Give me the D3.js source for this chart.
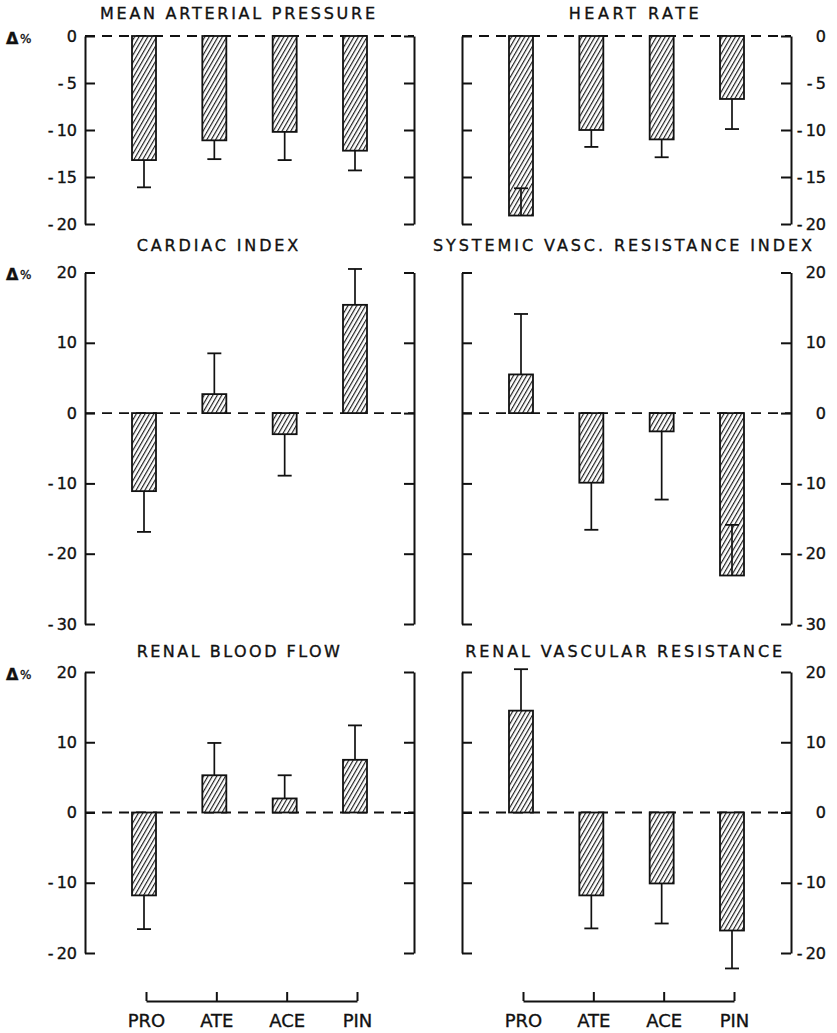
<!DOCTYPE html>
<html>
<head>
<meta charset="utf-8">
<script src="https://cdn.jsdelivr.net/npm/d3@7"></script>
<style>
  html, body { margin: 0; padding: 0; background: #fff; }
  svg text { font-family: "DejaVu Sans", sans-serif; fill: #111; stroke: #111; stroke-width: 0.35px; }
</style>
</head>
<body>
<svg id="chart" width="837" height="1033"></svg>
<script>
// Percent change from baseline (mean and SD) for each drug
const categories = ["PRO", "ATE", "ACE", "PIN"];

const mapMean  = [-13.2, -11.1, -10.2, -12.2];
const mapSD    = [2.9, 2.0, 3.0, 2.1];
const hrMean   = [-19.1, -10.0, -11.0, -6.7];
const hrSD     = [2.9, 1.8, 1.9, 3.2];
const ciMean   = [-11.1, 2.7, -3.0, 15.4];
const ciSD     = [5.8, 5.8, 5.9, 5.1];
const svriMean = [5.5, -9.9, -2.6, -23.1];
const svriSD   = [8.6, 6.7, 9.7, 7.2];
const rbfMean  = [-11.8, 5.3, 2.0, 7.5];
const rbfSD    = [4.8, 4.6, 3.3, 4.9];
const rvrMean  = [14.5, -11.8, -10.1, -16.8];
const rvrSD    = [5.9, 4.7, 5.7, 5.4];

// SD whiskers that are drawn back into the bar instead of away from zero
const hrInward   = ["PRO"];
const svriInward = ["PIN"];

const topTicks = [0, -5, -10, -15, -20];
const midTicks = [20, 10, 0, -10, -20, -30];
const lowTicks = [20, 10, 0, -10, -20];

const svg = d3.select("#chart");
const INK = "#111";
const W = 329;          // distance between the two vertical axes of a panel
const BAR_W = 24;
const CAP_W = 14;

// diagonal hatching for the bars
const defs = svg.append("defs");
const pat = defs.append("pattern")
  .attr("id", "hatch")
  .attr("patternUnits", "userSpaceOnUse")
  .attr("width", 3.8).attr("height", 4)
  .attr("patternTransform", "rotate(30)");
pat.append("rect").attr("width", 3.8).attr("height", 4).attr("fill", "#fff");
pat.append("line").attr("x1", 0.6).attr("y1", 0).attr("x2", 0.6).attr("y2", 4)
  .attr("stroke", INK).attr("stroke-width", 1.1);

const fmt = d => d < 0 ? "-\u2009" + Math.abs(d) : String(d);

const panels = [
  { title: "MEAN ARTERIAL PRESSURE", tx: 237.5, ty: 19, tw: 275,
    mean: mapMean, sd: mapSD, inward: [], ticks: topTicks,
    domain: [-20, 0], range: [224, 36], x0: 85, side: "left", delta: true },
  { title: "HEART RATE", tx: 633.7, ty: 19, tw: 130,
    mean: hrMean, sd: hrSD, inward: hrInward, ticks: topTicks,
    domain: [-20, 0], range: [224, 36], x0: 462, side: "right" },
  { title: "CARDIAC INDEX", tx: 217.5, ty: 250.7, tw: 161.6,
    mean: ciMean, sd: ciSD, inward: [], ticks: midTicks,
    domain: [-30, 20], range: [624, 272.5], x0: 85, side: "left", delta: true },
  { title: "SYSTEMIC VASC. RESISTANCE INDEX", tx: 622.5, ty: 250.7, tw: 379,
    mean: svriMean, sd: svriSD, inward: svriInward, ticks: midTicks,
    domain: [-30, 20], range: [624, 272.5], x0: 462, side: "right" },
  { title: "RENAL BLOOD FLOW", tx: 238.3, ty: 657.3, tw: 203.3,
    mean: rbfMean, sd: rbfSD, inward: [], ticks: lowTicks,
    domain: [-20, 20], range: [953, 672], x0: 85, side: "left", delta: true, bracket: true },
  { title: "RENAL VASCULAR RESISTANCE", tx: 623.7, ty: 657.3, tw: 316.7,
    mean: rvrMean, sd: rvrSD, inward: [], ticks: lowTicks,
    domain: [-20, 20], range: [953, 672], x0: 462, side: "right", bracket: true }
];

function styleAxis(sel) {
  sel.selectAll("path, line").attr("stroke", INK).attr("stroke-width", 2);
  sel.selectAll("text").attr("font-size", 16).style("font-family", "'DejaVu Sans', sans-serif");
}

panels.forEach(p => {
  const x = d3.scalePoint().domain(categories).range([59, 270]);
  const y = d3.scaleLinear().domain(p.domain).range(p.range);
  const g = svg.append("g").attr("transform", `translate(${p.x0},0)`);

  // title
  svg.append("text")
    .attr("x", p.tx).attr("y", p.ty)
    .attr("text-anchor", "middle")
    .attr("font-size", 16)
    .attr("textLength", p.tw).attr("lengthAdjust", "spacing")
    .text(p.title);

  // zero reference line
  g.append("line")
    .attr("x1", 0).attr("x2", W)
    .attr("y1", y(0)).attr("y2", y(0))
    .attr("stroke", INK).attr("stroke-width", 1.9)
    .attr("stroke-dasharray", "10,7");

  // left axis (ticks point inward)
  const la = g.append("g").call(
    d3.axisLeft(y).tickValues(p.ticks).tickSizeInner(-10).tickSizeOuter(0)
      .tickPadding(8).tickFormat(p.side === "left" ? fmt : () => ""));
  styleAxis(la);

  // right axis
  const ra = g.append("g").attr("transform", `translate(${W},0)`).call(
    d3.axisRight(y).tickValues(p.ticks).tickSizeInner(-10).tickSizeOuter(0)
      .tickPadding(8).tickFormat(p.side === "right" ? fmt : () => ""));
  styleAxis(ra);
  ra.selectAll("text").attr("text-anchor", "end").attr("x", 35);

  // "Δ%" unit marker next to the left scale
  if (p.delta) {
    const yt = y(p.domain[1]) + 7.5;
    svg.append("text").attr("x", 6).attr("y", yt)
      .attr("font-size", 16).attr("font-weight", "bold").text("Δ");
    svg.append("text").attr("x", 20).attr("y", yt - 1)
      .attr("font-size", 12).text("%");
  }

  const rows = categories.map((c, i) => ({ c, m: p.mean[i], s: p.sd[i], inward: p.inward.includes(c) }));

  // bars
  g.selectAll("rect.bar").data(rows).join("rect")
    .attr("class", "bar")
    .attr("x", d => x(d.c) - BAR_W / 2)
    .attr("width", BAR_W)
    .attr("y", d => Math.min(y(d.m), y(0)))
    .attr("height", d => Math.abs(y(d.m) - y(0)))
    .attr("fill", "url(#hatch)")
    .attr("stroke", INK).attr("stroke-width", 1.8);

  // SD whiskers
  const end = d => d.m + (d.inward ? -1 : 1) * Math.sign(d.m) * d.s;
  g.selectAll("line.whisker").data(rows).join("line")
    .attr("class", "whisker")
    .attr("x1", d => x(d.c)).attr("x2", d => x(d.c))
    .attr("y1", d => y(d.m)).attr("y2", d => y(end(d)))
    .attr("stroke", INK).attr("stroke-width", 1.7);
  g.selectAll("line.cap").data(rows).join("line")
    .attr("class", "cap")
    .attr("x1", d => x(d.c) - CAP_W / 2).attr("x2", d => x(d.c) + CAP_W / 2)
    .attr("y1", d => y(end(d))).attr("y2", d => y(end(d)))
    .attr("stroke", INK).attr("stroke-width", 1.8);

  // drug bracket with labels under the lowest row
  if (p.bracket) {
    const b = g.append("g").attr("transform", "translate(2,1001)").call(
      d3.axisBottom(x).tickSizeInner(-9).tickSizeOuter(0).tickPadding(13));
    b.selectAll("path, line").attr("stroke", INK).attr("stroke-width", 2);
    b.selectAll("text").attr("font-size", 18).style("font-family", "'DejaVu Sans', sans-serif");
  }
});
</script>
</body>
</html>
